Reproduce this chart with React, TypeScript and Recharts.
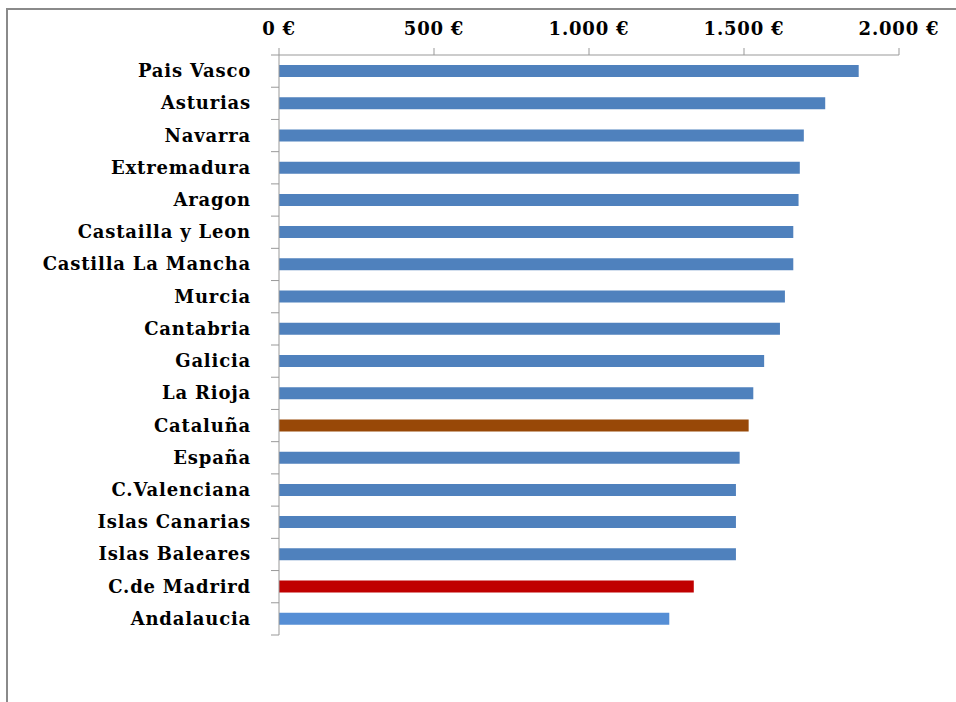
import React from "react";
import { BarChart, Bar, XAxis, YAxis, Cell } from "recharts";

const regions = [
  "Pais Vasco",
  "Asturias",
  "Navarra",
  "Extremadura",
  "Aragon",
  "Castailla y Leon",
  "Castilla La Mancha",
  "Murcia",
  "Cantabria",
  "Galicia",
  "La Rioja",
  "Cataluña",
  "España",
  "C.Valenciana",
  "Islas Canarias",
  "Islas Baleares",
  "C.de Madrird",
  "Andalaucia",
];

const amounts = [
  1870, 1762, 1693, 1680, 1676, 1659, 1659, 1632, 1616, 1565, 1530, 1515,
  1486, 1474, 1474, 1474, 1338, 1259,
];

const xTicks = [0, 500, 1000, 1500, 2000];

const data = regions.map((name, i) => ({ name, value: amounts[i] }));

// colours for the highlighted rows, the rest use the default blue
const barColor = (name: string) => {
  if (name === "Cataluña") return "#984807";
  if (name === "C.de Madrird") return "#C00000";
  if (name === "Andalaucia") return "#558ED5";
  return "#4F81BD";
};

const fmtEuro = (v: number) =>
  v.toLocaleString("de-DE", { maximumFractionDigits: 0 }) + " €";

const FONT = "'DejaVu Serif', 'Liberation Serif', serif";
const PLOT_H = 580;

// excel style: tick marks between categories, label centred in band
const CategoryTick = (props: any) => {
  const { x, y, payload, index } = props;
  const band = PLOT_H / regions.length;
  const last = index === regions.length - 1;
  return (
    <g>
      <line x1={x} x2={x + 8} y1={y - band / 2} y2={y - band / 2} stroke="#999" />
      {last && (
        <line x1={x} x2={x + 8} y1={y + band / 2} y2={y + band / 2} stroke="#999" />
      )}
      <text
        x={x - 20}
        y={y}
        dy={6}
        textAnchor="end"
        fontFamily={FONT}
        fontWeight="bold"
        fontSize={18}
        letterSpacing={0.8}
        fill="#000"
      >
        {payload.value}
      </text>
    </g>
  );
};

export default function App() {
  return (
    <div
      style={{
        position: "absolute",
        left: 0,
        top: 0,
        width: 956,
        height: 702,
        background: "#fff",
      }}
    >
      <div
        style={{
          position: "absolute",
          left: 6,
          top: 8,
          right: 0,
          bottom: 0,
          borderLeft: "2px solid #8a8a8a",
          borderTop: "2px solid #8a8a8a",
        }}
      />
      <div style={{ position: "absolute", left: 0, top: 0 }}>
        <BarChart
          width={956}
          height={702}
          data={data}
          layout="vertical"
          margin={{ top: 0, right: 57, bottom: 67, left: 0 }}
        >
          <XAxis
            type="number"
            orientation="top"
            domain={[0, 2000]}
            ticks={xTicks}
            height={55}
            tickFormatter={fmtEuro}
            stroke="#999"
            tickSize={7}
            tickMargin={13}
            tick={{
              fill: "#000",
              fontFamily: FONT,
              fontWeight: "bold",
              fontSize: 18,
              letterSpacing: 0.8,
            }}
          />
          <YAxis
            type="category"
            dataKey="name"
            width={279}
            stroke="#999"
            tickLine={false}
            interval={0}
            tick={<CategoryTick />}
          />
          <Bar dataKey="value" barSize={12} isAnimationActive={false}>
            {data.map((d) => (
              <Cell key={d.name} fill={barColor(d.name)} />
            ))}
          </Bar>
        </BarChart>
      </div>
    </div>
  );
}
